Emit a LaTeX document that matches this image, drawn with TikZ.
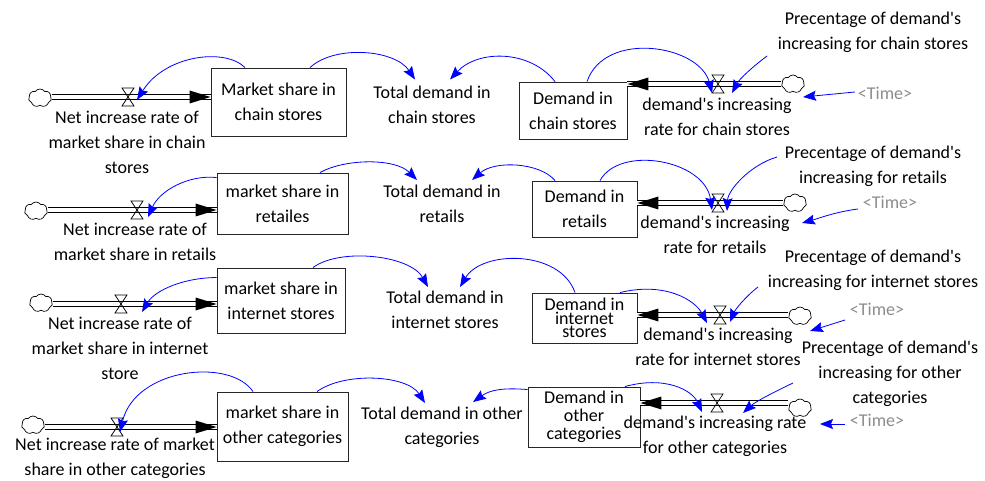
\documentclass[tikz,border=0pt]{standalone}
\usepackage{fontspec}
\setmainfont{Carlito}
\usetikzlibrary{arrows.meta,shapes.symbols,calc,decorations.markings}

\tikzset{
  stock/.style={draw=black!85, line width=0.9pt, align=center, inner sep=0pt},
  lbl/.style={align=center, inner sep=0pt},
  cloudy/.style={cloud, cloud puffs=7, cloud puff arc=110, aspect=1.3, draw, line width=0.7pt,
    fill=white, minimum width=23pt, minimum height=18pt, inner sep=0pt},
  pipe/.style={double=white, double distance=3.3pt, line width=0.9pt,
    postaction={decorate, decoration={markings,
      mark=at position 1 with {\fill[black] (0pt,0pt) -- (-21pt,6.5pt) -- (-21pt,-6.5pt) -- cycle;}}}},
  valveline/.style={line width=0.7pt},
  link/.style={blue, line width=0.8pt, -{Stealth[length=13pt,width=10pt,inset=2pt]}},
  timelbl/.style={text=black!45, inner sep=0pt}
}
\newcommand\valve[1]{\draw[valveline, shift={(#1)}] (-6,-9) -- (6,-9) -- (-6,9) -- (6,9) -- cycle;}

\begin{document}
\begin{tikzpicture}[x=1pt, y=-1pt, font=\fontsize{18}{25}\selectfont]
\useasboundingbox (0,0) rectangle (985,481);

% stocks
\node[stock, minimum width=135pt, minimum height=68pt] (s1) at (278.5,102) {Market share in\\chain stores};
\node[stock, minimum width=131pt, minimum height=61pt] (s2) at (282.5,203.5) {market share in\\retailes};
\node[stock, minimum width=128pt, minimum height=65pt] (s3) at (281,300.5) {market share in\\internet stores};
\node[stock, minimum width=131pt, minimum height=69pt] (s4) at (282.5,426.5) {market share in\\other categories};
\node[stock, minimum width=108pt, minimum height=57pt] (d1) at (573,110.5) {Demand in\\chain stores};
\node[stock, minimum width=105pt, minimum height=56pt] (d2) at (584.5,209) {Demand in\\retails};
\node[stock, minimum width=105pt, minimum height=50pt, font=\fontsize{18}{13.5}\selectfont] (d3) at (584.5,318) {Demand in\\internet\\stores};
\node[stock, minimum width=112pt, minimum height=60pt, font=\fontsize{18}{18}\selectfont] (d4) at (584,417) {Demand in\\other\\categories};

% sources and sinks
\node[cloudy] (c1) at (40,98) {};
\node[cloudy] (c2) at (36,211) {};
\node[cloudy] (c3) at (41,303) {};
\node[cloudy] (c4) at (33,425) {};
\node[cloudy] (cr1) at (793,84) {};
\node[cloudy] (cr2) at (795,203) {};
\node[cloudy] (cr3) at (800,316) {};
\node[cloudy] (cr4) at (800,408) {};

% valves
\coordinate (v1) at (128,97);
\coordinate (v2) at (137,210);
\coordinate (v3) at (121,304);
\coordinate (v4) at (117,427);
\coordinate (w1) at (718,84);
\coordinate (w2) at (718,203);
\coordinate (w3) at (720,315);
\coordinate (w4) at (717,403);

\draw[pipe] (c1.east |- v1) -- (s1.west |- v1);
\draw[pipe] (c2.east |- v2) -- (s2.west |- v2);
\draw[pipe] (c3.east |- v3) -- (s3.west |- v3);
\draw[pipe] (c4.east |- v4) -- (s4.west |- v4);
\draw[pipe] (cr1.west |- w1) -- (d1.east |- w1);
\draw[pipe] (cr2.west |- w2) -- (d2.east |- w2);
\draw[pipe] (cr3.west |- w3) -- (d3.east |- w3);
\draw[pipe] (cr4.west |- w4) -- (d4.east |- w4);
\valve{v1} \valve{v2} \valve{v3} \valve{v4}
\valve{w1} \valve{w2} \valve{w3} \valve{w4}

% labels
\node[lbl] (f1) at (127,142) {Net increase rate of\\market share in chain\\stores};
\node[lbl] (f2) at (135,241.5) {Net increase rate of\\market share in retails};
\node[lbl] (f3) at (120,348) {Net increase rate of\\market share in internet\\store};
\node[lbl] (f4) at (115,458) {Net increase rate of market\\share in other categories};
\node[lbl] (t1) at (432,104.5) {Total demand in\\chain stores};
\node[lbl] (t2) at (442,204) {Total demand in\\retails};
\node[lbl] (t3) at (445,310) {Total demand in\\internet stores};
\node[lbl] (t4) at (442,427.5) {Total demand in other\\categories};
\node[lbl] (g1) at (717,116.5) {demand\textquotesingle s increasing\\rate for chain stores};
\node[lbl] (g2) at (715,235) {demand\textquotesingle s increasing\\rate for retails};
\node[lbl] (g3) at (718,347) {demand\textquotesingle s increasing\\rate for internet stores};
\node[lbl] (g4) at (715,436) {demand\textquotesingle s increasing rate\\for other categories};
\node[lbl] (p1) at (873,32) {Precentage of demand\textquotesingle s\\increasing for chain stores};
\node[lbl] (p2) at (873,166) {Precentage of demand\textquotesingle s\\increasing for retails};
\node[lbl] (p3) at (873,270.5) {Precentage of demand\textquotesingle s\\increasing for internet stores};
\node[lbl] (p4) at (890,374) {Precentage of demand\textquotesingle s\\increasing for other\\categories};
\node[timelbl] (tm1) at (885,93) {<Time>};
\node[timelbl] (tm2) at (890,202) {<Time>};
\node[timelbl] (tm3) at (877,309) {<Time>};
\node[timelbl] (tm4) at (877,420) {<Time>};

% chain stores
\draw[link] ([xshift=-33.5pt]s1.north) .. controls +(-20,-20) and +(28,-45) .. ($(v1)+(9,3)$);
\draw[link] ([xshift=31.5pt]s1.north) .. controls +(25,-23) and +(-20,-30) .. ($(t1)+(-17,-25)$);
\draw[link] ([xshift=-18pt]d1.north) .. controls +(-25,-32) and +(28,-30) .. ($(t1)+(18,-25)$);
\draw[link] ([xshift=14pt]d1.north) .. controls +(18,-52) and +(-12,-48) .. ($(w1)+(-6,9)$);
\draw[link] ($(p1)+(-106,24)$) .. controls +(-12,9) and +(8,-15) .. ($(w1)+(14,9)$);
\draw[link] ($(tm1)+(-30,-1)$) -- ($(g1)+(86,-19.5)$);

% retails
\draw[link] ([yshift=-5pt]s2.north west) .. controls +(-27,-3) and +(12,-27) .. ($(v2)+(11,7)$);
\draw[link] ([xshift=37.5pt]s2.north) .. controls +(25,-14) and +(-22,-22) .. ($(t2)+(-25,-24)$);
\draw[link] ([xshift=-29.5pt]d2.north) .. controls +(-15,-18) and +(23,-20) .. ($(t2)+(30,-24)$);
\draw[link] ([xshift=15.5pt]d2.north) .. controls +(20,-36) and +(-7,-50) .. ($(w2)+(-6,7)$);
\draw[link] ($(p2)+(-96,-9)$) .. controls +(-27,8) and +(1,-21) .. ($(w2)+(9,8)$);
\draw[link] ($(tm2)+(-32,7)$) .. controls +(-23,3) and +(18,-5) .. ($(g2)+(87,-12)$);

% internet stores
\draw[link] ([yshift=-10pt]s3.north west) .. controls +(-32,0) and +(13,-22) .. ($(v3)+(21,8)$);
\draw[link] ([xshift=32pt]s3.north) .. controls +(27,-20) and +(-18,-32) .. ($(t3)+(-17,-23)$);
\draw[link] ([xshift=-9.5pt]d3.north) .. controls +(-15,-43) and +(22,-37) .. ($(t3)+(15,-23)$);
\draw[link] ([xshift=35.5pt]d3.north) .. controls +(45,-11) and +(-12,-23) .. ($(w3)+(-13,8)$);
\draw[link] ($(p3)+(-115,16.5)$) .. controls +(-13,10) and +(5,-12) .. ($(w3)+(10,7)$);
\draw[link] ($(tm3)+(-32,11)$) -- ($(g3)+(92,-16)$);

% other categories
\draw[link] ([xshift=-29.5pt]s4.north) .. controls +(-23,-34) and +(15,-64) .. ($(v4)+(3,5)$);
\draw[link] ([xshift=34.5pt]s4.north) .. controls +(28,-20) and +(-18,-28) .. ($(t4)+(-17,-24.5)$);
\draw[link] ([yshift=-3pt]d4.north west) .. controls +(-25,-2) and +(17,-12) .. ($(t4)+(31,-25.5)$);
\draw[link] ([xshift=41pt]d4.north) .. controls +(40,-11) and +(-10,-22) .. ($(w4)+(-15,9)$);
\draw[link] ($(p4)+(-97,9)$) .. controls +(-21,10) and +(12,-11) .. ($(w4)+(26,10)$);
\draw[link] ($(tm4)+(-32,4)$) -- ($(g4)+(105,-12)$);
\end{tikzpicture}
\end{document}
